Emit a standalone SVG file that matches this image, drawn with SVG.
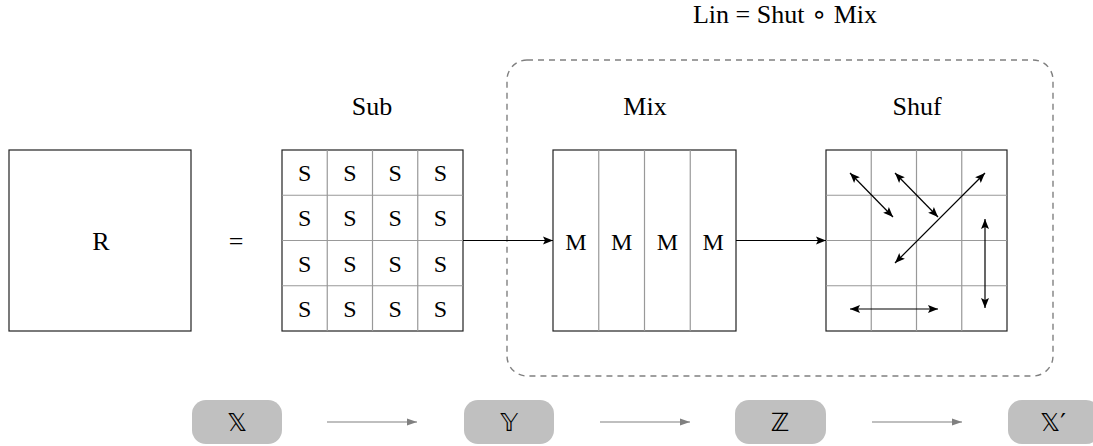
<svg xmlns="http://www.w3.org/2000/svg" width="1093" height="446" viewBox="0 0 1093 446">
<style>
text{font-family:"Liberation Serif","DejaVu Serif",serif;fill:#000}
.lbl{font-size:26px;text-anchor:middle}
.cell{font-size:24px;text-anchor:middle}
.outer{fill:#fff;stroke:#222;stroke-width:1.2}
.inner{stroke:#999;stroke-width:1.2;fill:none}
.conn{stroke:#000;stroke-width:1.2;fill:none}
.gconn{stroke:#808080;stroke-width:1.2;fill:none}
.pill{fill:#c0c0c0}
.ds{font-family:"DejaVu Sans","Noto Sans",sans-serif;font-size:25px;text-anchor:middle}
.dash{fill:none;stroke:#808080;stroke-width:1.4;stroke-dasharray:6 5}
.op{font-family:"DejaVu Sans",sans-serif;font-size:26px}
</style>
<defs>
<marker id="ah" viewBox="0 0 10 10" refX="10" refY="5" markerWidth="10" markerHeight="10" markerUnits="userSpaceOnUse" orient="auto-start-reverse">
<path d="M0,1 L10,5 L0,9 L2,5 Z" fill="#000"/>
</marker>
<marker id="gh" viewBox="0 0 10 10" refX="10" refY="5" markerWidth="10" markerHeight="10" markerUnits="userSpaceOnUse" orient="auto">
<path d="M0,1.5 L10,5 L0,8.5 Z" fill="#808080"/>
</marker>
</defs>

<text class="lbl" x="785" y="23" xml:space="preserve">Lin = Shut <tspan class="op">∘</tspan> Mix</text>
<rect class="dash" x="507" y="60" width="546" height="316" rx="20"/>

<g id="R">
<rect class="outer" x="9" y="150" width="182" height="181"/>
<text class="lbl" x="101" y="250">R</text>
</g>
<text class="lbl" x="236" y="250">=</text>

<g id="Sub">
<text class="lbl" x="372" y="115">Sub</text>
<rect class="outer" x="282" y="150" width="181" height="181"/>
<path class="inner" d="M327.25,150V331M372.5,150V331M417.75,150V331M282,195.25H463M282,240.5H463M282,285.75H463"/>
<text class="cell" x="304.6" y="181">S</text><text class="cell" x="349.9" y="181">S</text><text class="cell" x="395.1" y="181">S</text><text class="cell" x="440.4" y="181">S</text>
<text class="cell" x="304.6" y="226">S</text><text class="cell" x="349.9" y="226">S</text><text class="cell" x="395.1" y="226">S</text><text class="cell" x="440.4" y="226">S</text>
<text class="cell" x="304.6" y="272">S</text><text class="cell" x="349.9" y="272">S</text><text class="cell" x="395.1" y="272">S</text><text class="cell" x="440.4" y="272">S</text>
<text class="cell" x="304.6" y="317">S</text><text class="cell" x="349.9" y="317">S</text><text class="cell" x="395.1" y="317">S</text><text class="cell" x="440.4" y="317">S</text>
</g>

<g id="Mix">
<text class="lbl" x="645" y="115">Mix</text>
<rect class="outer" x="553" y="150" width="183" height="181"/>
<path class="inner" d="M598.75,150V331M644.5,150V331M690.25,150V331"/>
<text class="cell" x="575.9" y="250">M</text><text class="cell" x="621.6" y="250">M</text><text class="cell" x="667.4" y="250">M</text><text class="cell" x="713.1" y="250">M</text>
</g>

<g id="Shuf">
<text class="lbl" x="917" y="115">Shuf</text>
<rect class="outer" x="826" y="150" width="181" height="181"/>
<path class="inner" d="M871.25,150V331M916.5,150V331M961.75,150V331M826,195.25H1007M826,240.5H1007M826,285.75H1007"/>
<line class="conn" x1="850" y1="173" x2="893" y2="217" marker-start="url(#ah)" marker-end="url(#ah)"/>
<line class="conn" x1="895" y1="173" x2="938" y2="217" marker-start="url(#ah)" marker-end="url(#ah)"/>
<line class="conn" x1="985" y1="173" x2="895" y2="263" marker-start="url(#ah)" marker-end="url(#ah)"/>
<line class="conn" x1="985" y1="219" x2="985" y2="308" marker-start="url(#ah)" marker-end="url(#ah)"/>
<line class="conn" x1="850" y1="309" x2="938" y2="309" marker-start="url(#ah)" marker-end="url(#ah)"/>
</g>

<g id="connectors">
<line class="conn" x1="463" y1="240.5" x2="553" y2="240.5" marker-end="url(#ah)"/>
<line class="conn" x1="736" y1="240.5" x2="826" y2="240.5" marker-end="url(#ah)"/>
<line class="gconn" x1="327" y1="422" x2="417" y2="422" marker-end="url(#gh)"/>
<line class="gconn" x1="600" y1="422" x2="690" y2="422" marker-end="url(#gh)"/>
<line class="gconn" x1="872" y1="422" x2="962" y2="422" marker-end="url(#gh)"/>
</g>

<g id="X"><rect class="pill" x="192" y="400" width="90" height="44" rx="14"/><text class="ds" x="237" y="431">𝕏</text></g>
<g id="Y"><rect class="pill" x="464" y="400" width="90" height="44" rx="14"/><text class="ds" x="509" y="431">𝕐</text></g>
<g id="Z"><rect class="pill" x="735" y="400" width="91" height="44" rx="14"/><text class="ds" x="780" y="431">ℤ</text></g>
<g id="Xp"><rect class="pill" x="1008" y="400" width="92" height="44" rx="14"/><text class="ds" x="1053" y="431">𝕏′</text></g>
</svg>
